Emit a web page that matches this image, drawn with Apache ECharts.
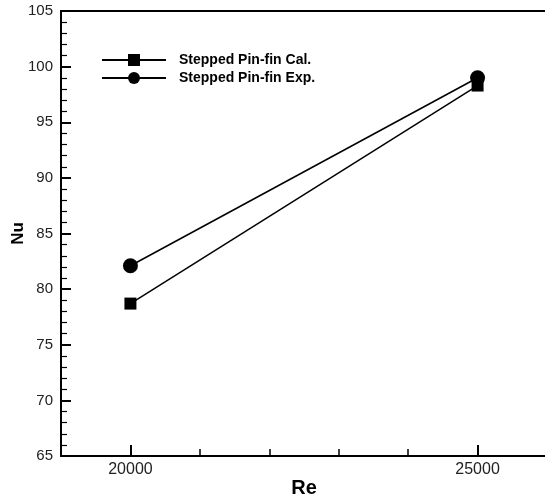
<!DOCTYPE html>
<html>
<head>
<meta charset="utf-8">
<script src="https://cdn.jsdelivr.net/npm/echarts@6/dist/echarts.min.js"></script>
<style>
html,body{margin:0;padding:0;background:#fff;}
#chart{width:545px;height:499px;}
</style>
</head>
<body>
<div id="chart"></div>
<script>
const reValues = [20000, 25000];
const nuCal = [78.7, 98.3];
const nuExp = [82.1, 99.0];
const seriesNames = ['Stepped Pin-fin Cal.', 'Stepped Pin-fin Exp.'];
const xMajorTicks = [20000, 25000];
const xMinorTicks = [21000, 22000, 23000, 24000];

const FONT = "'Liberation Sans', Arial, sans-serif";
const chart = echarts.init(document.getElementById('chart'), null, {renderer: 'canvas'});

const gridPos = {left: 61, right: -2, top: 11, bottom: 43, containLabel: false, outerBoundsMode: 'none'};

chart.setOption({
  backgroundColor: '#fff',
  animation: false,
  grid: [
    Object.assign({}, gridPos),
    Object.assign({}, gridPos)
  ],
  legend: {
    orient: 'vertical',
    left: 101,
    top: 53,
    padding: 0,
    itemWidth: 64,
    itemHeight: 15,
    itemGap: 4,
    data: seriesNames,
    textStyle: {fontFamily: FONT, fontWeight: 'bold', fontSize: 14, color: '#000', padding: [0, 0, 0, 8]}
  },
  xAxis: [
    {
      type: 'value', gridIndex: 0, position: 'bottom',
      min: 19000, max: 26000,
      name: 'Re', nameLocation: 'middle', nameGap: 22, nameMoveOverlap: false,
      nameTextStyle: {fontFamily: FONT, fontWeight: 'bold', fontSize: 20, color: '#000'},
      axisLine: {show: true, lineStyle: {color: '#000', width: 2}},
      axisTick: {show: true, inside: true, length: 11, customValues: xMajorTicks, lineStyle: {color: '#000', width: 2}},
      axisLabel: {show: true, customValues: xMajorTicks, formatter: v => String(v), fontFamily: FONT, fontSize: 16, color: '#222', margin: 6},
      splitLine: {show: false}
    },
    {
      type: 'value', gridIndex: 0, position: 'top',
      min: 19000, max: 26000,
      axisLine: {show: true, lineStyle: {color: '#000', width: 2}},
      axisTick: {show: false}, axisLabel: {show: false}, splitLine: {show: false}
    },
    {
      type: 'value', gridIndex: 1, position: 'bottom',
      min: 19000, max: 26000,
      axisLine: {show: false},
      axisTick: {show: true, inside: true, length: 7, customValues: xMinorTicks, lineStyle: {color: '#000', width: 1.5}},
      axisLabel: {show: false}, splitLine: {show: false}
    }
  ],
  yAxis: [
    {
      type: 'value', gridIndex: 0, position: 'left',
      min: 65, max: 105, interval: 5,
      name: 'Nu', nameLocation: 'middle', nameGap: 34, nameMoveOverlap: false,
      nameTextStyle: {fontFamily: FONT, fontWeight: 'bold', fontSize: 17, color: '#000'},
      axisLine: {show: true, lineStyle: {color: '#000', width: 2}},
      axisTick: {show: true, inside: true, length: 10, lineStyle: {color: '#000', width: 2}},
      minorTick: {show: true, splitNumber: 5, length: 6, lineStyle: {color: '#000', width: 1.2}},
      axisLabel: {fontFamily: FONT, fontSize: 15, color: '#222', margin: 8},
      splitLine: {show: false}, minorSplitLine: {show: false}
    },
    {
      type: 'value', gridIndex: 1, position: 'left',
      min: 65, max: 105,
      axisLine: {show: false}, axisTick: {show: false}, axisLabel: {show: false}, splitLine: {show: false}
    }
  ],
  series: [
    {
      name: seriesNames[0], type: 'line', xAxisIndex: 0, yAxisIndex: 0,
      data: reValues.map((x, i) => [x, nuCal[i]]),
      symbol: 'rect', symbolSize: 12,
      lineStyle: {color: '#000', width: 1.5},
      itemStyle: {color: '#000'}
    },
    {
      name: seriesNames[1], type: 'line', xAxisIndex: 0, yAxisIndex: 0,
      data: reValues.map((x, i) => [x, nuExp[i]]),
      symbol: 'circle', symbolSize: 15,
      lineStyle: {color: '#000', width: 1.5},
      itemStyle: {color: '#000'}
    }
  ]
});
</script>
</body>
</html>
